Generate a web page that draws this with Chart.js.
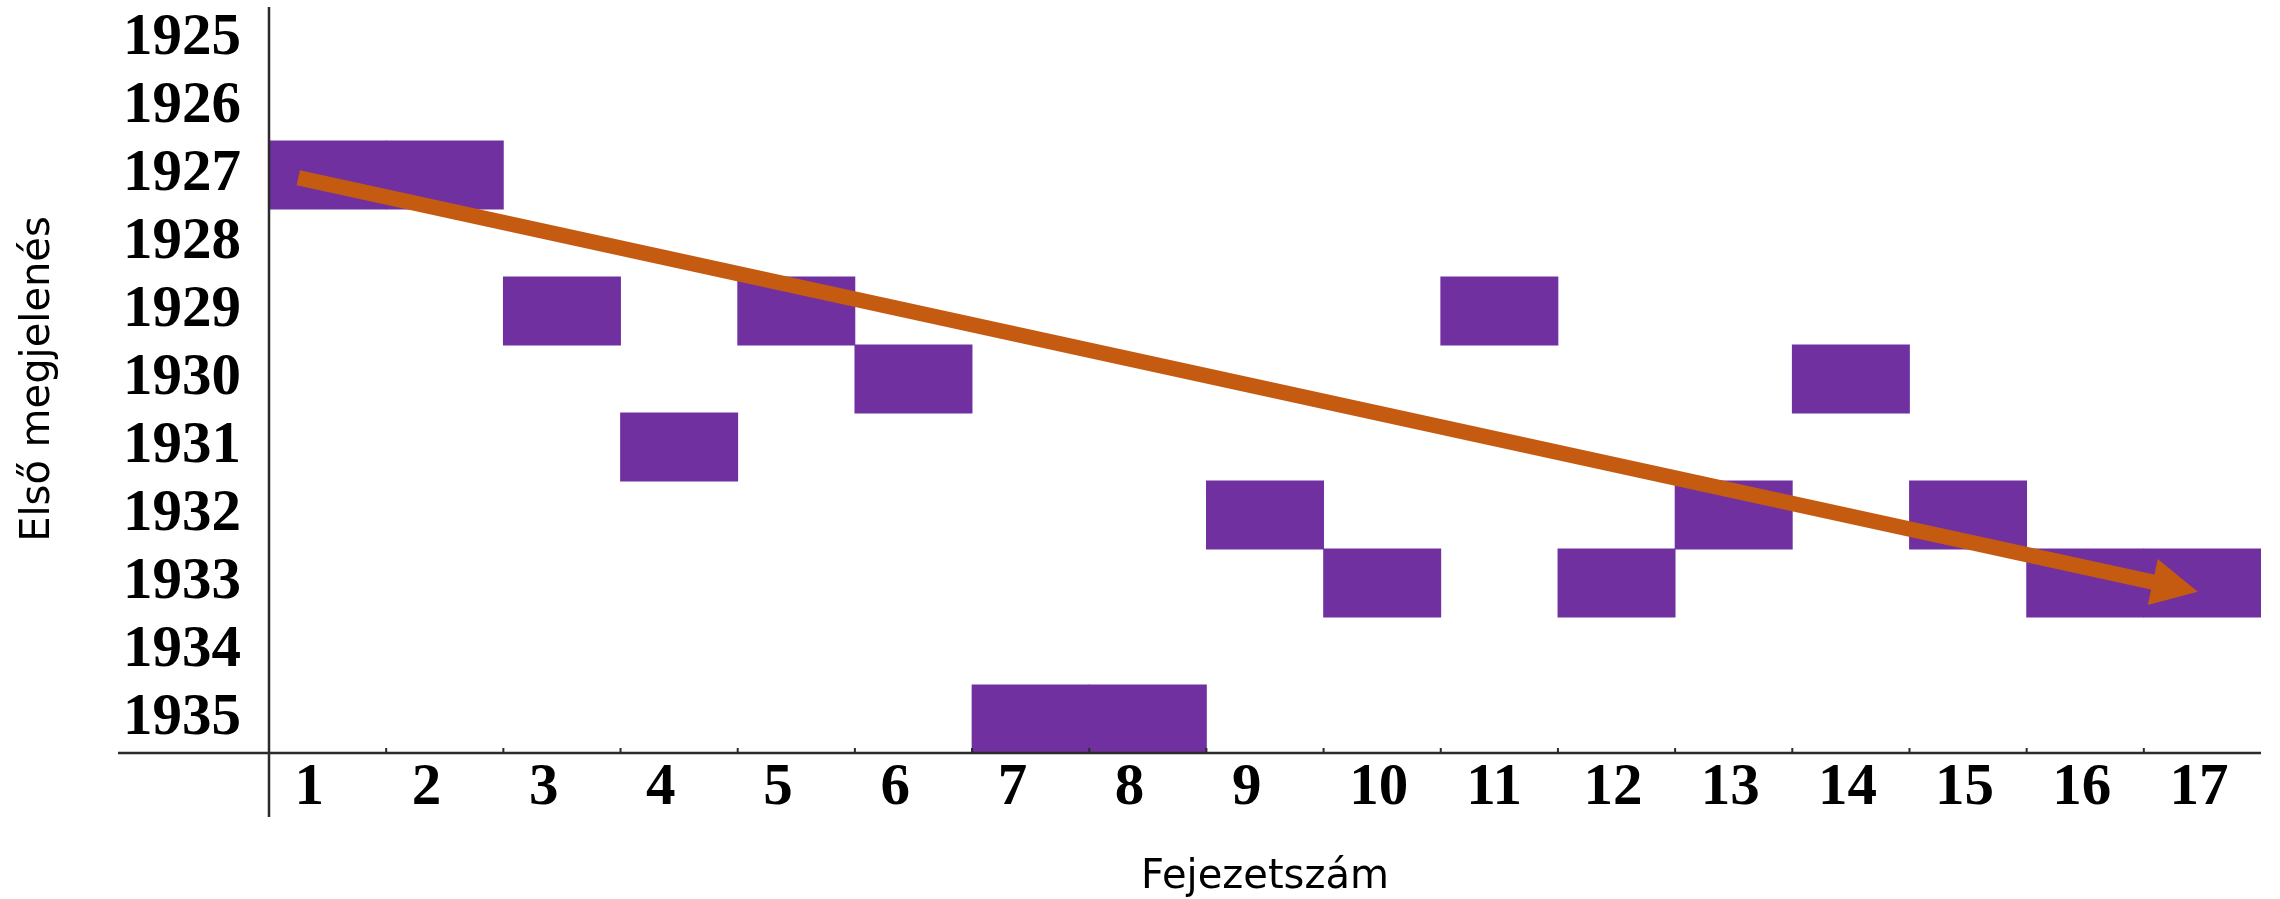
<!DOCTYPE html>
<html>
<head>
<meta charset="utf-8">
<script src="https://cdn.jsdelivr.net/npm/chart.js@4"></script>
<style>html,body{margin:0;padding:0;background:#fff;}canvas{display:block;}</style>
</head>
<body>
<canvas id="c" width="2280" height="899"></canvas>
<script>
const chapters = [1, 2, 3, 4, 5, 6, 7, 8, 9, 10, 11, 12, 13, 14, 15, 16, 17];
const firstYears = [1927, 1927, 1929, 1931, 1929, 1930, 1935, 1935, 1932, 1933, 1929, 1933, 1932, 1930, 1932, 1933, 1933];
const yearTicks = [1925, 1926, 1927, 1928, 1929, 1930, 1931, 1932, 1933, 1934, 1935];
const trendStart = [0.75, 1927.04];
const trendEnd = [16.96, 1933.13];

const barColor = '#7030A0';
const arrowColor = '#C55A11';
const axisColor = '#2b2b2b';

const decor = {
  id: 'decor',
  afterDatasetsDraw(chart) {
    const { ctx, chartArea: a, scales: { x, y } } = chart;
    ctx.save();
    ctx.strokeStyle = axisColor;
    ctx.lineWidth = 2.5;
    ctx.beginPath();
    ctx.moveTo(a.left - 151, a.bottom);
    ctx.lineTo(a.right, a.bottom);
    ctx.moveTo(a.left, a.top + 2);
    ctx.lineTo(a.left, a.bottom + 64);
    ctx.stroke();
    ctx.lineWidth = 2;
    ctx.beginPath();
    for (let i = 1; i < chapters.length; i++) {
      const px = x.getPixelForValue(chapters[i] - 0.5);
      ctx.moveTo(px, a.bottom);
      ctx.lineTo(px, a.bottom - 5);
    }
    ctx.stroke();
    const x0 = x.getPixelForValue(trendStart[0]);
    const y0 = y.getPixelForValue(trendStart[1]);
    const x1 = x.getPixelForValue(trendEnd[0]);
    const y1 = y.getPixelForValue(trendEnd[1]);
    const ang = Math.atan2(y1 - y0, x1 - x0);
    const headLen = 46, headHalf = 23.5;
    const c = Math.cos(ang), s = Math.sin(ang);
    const bx = x1 - headLen * c, by = y1 - headLen * s;
    ctx.strokeStyle = arrowColor;
    ctx.lineWidth = 15.5;
    ctx.lineCap = 'butt';
    ctx.beginPath();
    ctx.moveTo(x0, y0);
    ctx.lineTo(bx + 2 * c, by + 2 * s);
    ctx.stroke();
    ctx.fillStyle = arrowColor;
    ctx.beginPath();
    ctx.moveTo(x1, y1);
    ctx.lineTo(bx + headHalf * s, by - headHalf * c);
    ctx.lineTo(bx - headHalf * s, by + headHalf * c);
    ctx.closePath();
    ctx.fill();
    ctx.restore();
  }
};

const tickFont = { family: "'Liberation Serif', 'Times New Roman', serif", size: 59, weight: 'bold', lineHeight: 1 };
const titleFont = { family: "'DejaVu Sans', sans-serif", size: 40, weight: 'normal', lineHeight: 1 };

new Chart(document.getElementById('c'), {
  type: 'bar',
  data: {
    datasets: [{
      label: 'Első megjelenés',
      data: chapters.map((c, i) => ({ x: c, y: [firstYears[i] - 0.5, firstYears[i] + 0.5] })),
      backgroundColor: barColor,
      borderWidth: 0,
      barPercentage: 1,
      categoryPercentage: 1,
      inflateAmount: 0.4
    }]
  },
  options: {
    responsive: false,
    animation: false,
    layout: { padding: { top: 5, right: 19, bottom: 0, left: 0 } },
    plugins: { legend: { display: false }, tooltip: { enabled: false } },
    scales: {
      x: {
        type: 'linear',
        offset: false,
        min: chapters[0] - 0.5,
        max: chapters[chapters.length - 1] + 0.5,
        grid: { display: false, drawTicks: false, offset: false },
        border: { display: false },
        afterBuildTicks: (sc) => { sc.ticks = chapters.map(v => ({ value: v })); },
        afterFit: (sc) => { sc.height = 146; sc.paddingLeft = 0; sc.paddingRight = 0; },
        ticks: {
          autoSkip: false, maxRotation: 0, minRotation: 0,
          align: 'start', labelOffset: -33,
          padding: 6, color: '#000', font: tickFont,
          callback: (v) => String(v)
        },
        title: { display: true, text: 'Fejezetszám', color: '#000', font: titleFont, padding: { top: 0, bottom: 1 } }
      },
      y: {
        type: 'linear',
        reverse: true,
        offset: false,
        min: yearTicks[0] - 0.5,
        max: yearTicks[yearTicks.length - 1] + 0.5,
        grid: { display: false, drawTicks: false },
        border: { display: false },
        afterBuildTicks: (sc) => { sc.ticks = yearTicks.map(v => ({ value: v })); },
        afterFit: (sc) => { sc.width = 269; sc.paddingTop = 0; sc.paddingBottom = 0; },
        ticks: {
          autoSkip: false, padding: 28, color: '#000', font: tickFont,
          callback: (v) => String(v)
        },
        title: { display: true, text: 'Első megjelenés', color: '#000', font: titleFont, padding: { top: 19, bottom: 0 } }
      }
    }
  },
  plugins: [decor]
});
</script>
</body>
</html>
